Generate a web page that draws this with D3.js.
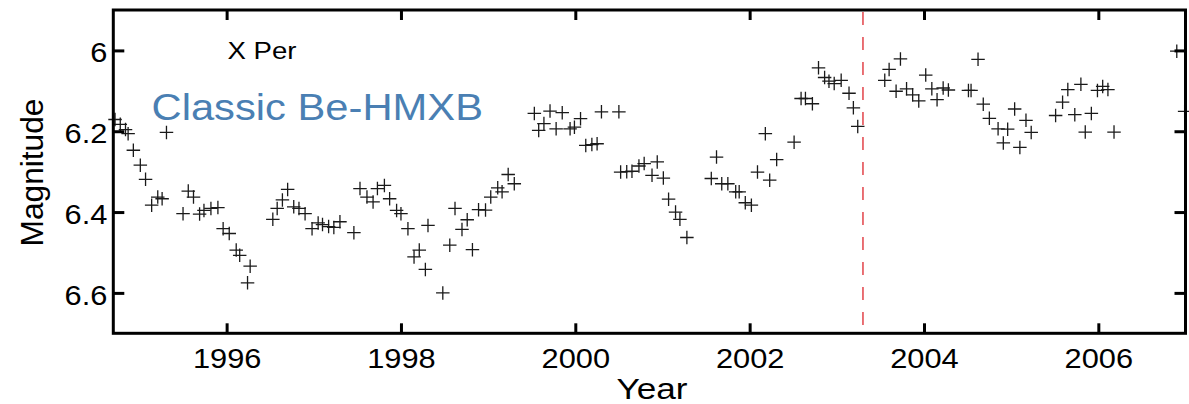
<!DOCTYPE html>
<html>
<head>
<meta charset="utf-8">
<script src="https://cdn.jsdelivr.net/npm/d3@7"></script>
<style>
  html, body { margin: 0; padding: 0; background: #fff; }
  svg { display: block; font-family: "Liberation Sans", Arial, sans-serif; }
</style>
</head>
<body>
<svg id="chart" width="1189" height="404"></svg>
<script>
// X Per optical light curve: epoch (decimal year) and V magnitude
const years = [
  1994.72,1994.78,1994.84,1994.87,1994.93,1995.01,1995.07,1995.14,1995.21,1995.26,
  1995.31,1995.50,1995.56,1995.62,1995.69,1995.74,1995.82,1995.90,1995.96,1996.03,
  1996.11,1996.15,1996.24,1996.27,1996.53,1996.58,1996.64,1996.70,1996.77,1996.83,
  1996.90,1996.98,1997.05,1997.10,1997.17,1997.23,1997.30,1997.46,1997.53,1997.61,
  1997.68,1997.73,1997.81,1997.87,1997.95,1998.00,1998.08,1998.15,1998.21,1998.28,
  1998.31,1998.48,1998.56,1998.62,1998.70,1998.76,1998.82,1998.89,1998.97,1999.03,
  1999.11,1999.16,1999.23,1999.30,1999.53,1999.58,1999.64,1999.71,1999.78,1999.85,
  1999.94,1999.99,2000.06,2000.12,2000.19,2000.25,2000.30,2000.50,2000.52,2000.59,
  2000.65,2000.73,2000.79,2000.88,2000.94,2001.01,2001.07,2001.15,2001.20,2001.28,
  2001.56,2001.62,2001.68,2001.75,2001.84,2001.88,2001.95,2002.02,2002.09,2002.18,
  2002.23,2002.31,2002.51,2002.59,2002.64,2002.72,2002.79,2002.86,2002.91,2002.97,
  2003.05,2003.14,2003.19,2003.24,2003.55,2003.60,2003.68,2003.73,2003.80,2003.87,
  2003.94,2004.02,2004.09,2004.15,2004.22,2004.28,2004.51,2004.54,2004.62,2004.68,
  2004.75,2004.85,2004.91,2004.96,2005.04,2005.10,2005.17,2005.23,2005.51,2005.59,
  2005.65,2005.73,2005.80,2005.85,2005.92,2005.99,2006.05,2006.11,2006.18,2006.90,
  2006.99
];
const magnitudes = [
  6.171,6.183,6.196,6.206,6.247,6.284,6.319,6.383,6.363,6.367,
  6.203,6.404,6.348,6.363,6.405,6.396,6.391,6.389,6.441,6.453,
  6.494,6.507,6.575,6.534,6.418,6.391,6.370,6.344,6.387,6.391,
  6.404,6.441,6.427,6.431,6.436,6.438,6.424,6.451,6.342,6.363,
  6.375,6.342,6.334,6.367,6.396,6.404,6.441,6.511,6.494,6.542,
  6.433,6.600,6.482,6.391,6.443,6.419,6.493,6.394,6.395,6.363,
  6.340,6.350,6.307,6.330,6.156,6.198,6.181,6.150,6.194,6.154,
  6.194,6.190,6.169,6.235,6.233,6.231,6.152,6.152,6.301,6.300,
  6.299,6.286,6.280,6.309,6.276,6.316,6.368,6.400,6.418,6.463,
  6.317,6.264,6.330,6.330,6.350,6.350,6.377,6.383,6.301,6.206,
  6.321,6.270,6.227,6.119,6.119,6.132,6.043,6.067,6.076,6.082,
  6.074,6.106,6.142,6.188,6.074,6.047,6.101,6.021,6.095,6.110,
  6.125,6.061,6.095,6.122,6.093,6.098,6.099,6.099,6.022,6.133,
  6.168,6.194,6.229,6.195,6.145,6.240,6.173,6.203,6.161,6.128,
  6.097,6.159,6.084,6.202,6.156,6.099,6.089,6.097,6.202,6.002,
  6.151
];
const yearTicks = [1996, 1998, 2000, 2002, 2004, 2006];
const magTicks = [6.0, 6.2, 6.4, 6.6];
const markerYear = 2003.30;   // vertical dashed reference epoch
const starName = "X Per";
const classLabel = "Classic Be-HMXB";

const svg = d3.select("#chart");
const plot = { left: 113.3, right: 1185.5, top: 10, bottom: 333.3 };

const x = d3.scaleLinear().domain([1994.70, 2007.0]).range([plot.left, plot.right]);
const y = d3.scaleLinear().domain([5.9, 6.7]).range([plot.top, plot.bottom]);

const stretch = 1.1;

// plus-sign marker drawn as a stroked symbol
const plusSymbol = {
  draw(ctx, size) {
    const r = Math.sqrt(size) / 2;
    ctx.moveTo(-r, 0); ctx.lineTo(r, 0);
    ctx.moveTo(0, -r); ctx.lineTo(0, r);
  }
};

// dashed reference line
svg.append("line")
  .attr("x1", x(markerYear)).attr("x2", x(markerYear))
  .attr("y1", plot.top + 2).attr("y2", plot.bottom - 2)
  .attr("stroke", "#e0363c").attr("stroke-width", 1.4)
  .attr("stroke-dasharray", "13,12");

// data points
const pts = years.map((t, i) => ({ t, m: magnitudes[i] }));
svg.append("g").selectAll("path").data(pts).join("path")
  .attr("transform", d => `translate(${x(d.t)},${y(d.m)})`)
  .attr("d", d3.symbol().type(plusSymbol).size(13.5 * 13.5))
  .attr("fill", "none").attr("stroke", "#1a1a1a").attr("stroke-width", 1.3);

// axes with inward ticks on all four sides
function styleAxis(g) {
  g.select(".domain").remove();
  g.selectAll(".tick line").attr("stroke", "#000").attr("stroke-width", 3);
}
const axisB = svg.append("g").attr("transform", `translate(0,${plot.bottom})`)
  .call(d3.axisBottom(x).tickValues(yearTicks).tickSize(-10).tickFormat(d3.format("d")));
styleAxis(axisB);
axisB.selectAll(".tick text")
  .attr("y", 34.4).attr("dy", 0)
  .attr("font-size", 28).attr("fill", "#000")
  .attr("font-family", "'Liberation Sans', Arial, sans-serif")
  .attr("transform", `scale(${stretch},1)`);

const axisT = svg.append("g").attr("transform", `translate(0,${plot.top})`)
  .call(d3.axisTop(x).tickValues(yearTicks).tickSize(-10).tickFormat(""));
styleAxis(axisT);

const axisL = svg.append("g").attr("transform", `translate(${plot.left},0)`)
  .call(d3.axisLeft(y).tickValues(magTicks).tickSize(-11).tickFormat(d3.format("")));
styleAxis(axisL);
axisL.selectAll(".tick text")
  .attr("x", -6 / stretch).attr("dy", "0.4em")
  .attr("font-size", 28).attr("fill", "#000")
  .attr("font-family", "'Liberation Sans', Arial, sans-serif")
  .attr("transform", `scale(${stretch},1)`);

const axisR = svg.append("g").attr("transform", `translate(${plot.right},0)`)
  .call(d3.axisRight(y).tickValues(magTicks).tickSize(-11).tickFormat(""));
styleAxis(axisR);

// frame
svg.append("rect")
  .attr("x", plot.left).attr("y", plot.top)
  .attr("width", plot.right - plot.left).attr("height", plot.bottom - plot.top)
  .attr("fill", "none").attr("stroke", "#000").attr("stroke-width", 3);

// axis titles
svg.append("text")
  .attr("x", 652).attr("y", 398.5)
  .attr("text-anchor", "middle").attr("font-size", 30)
  .attr("textLength", 71).attr("lengthAdjust", "spacingAndGlyphs")
  .text("Year");

svg.append("text")
  .attr("transform", "translate(43,172.5) rotate(-90)")
  .attr("text-anchor", "middle").attr("font-size", 31)
  .attr("textLength", 148).attr("lengthAdjust", "spacingAndGlyphs")
  .text("Magnitude");

// annotations
svg.append("text")
  .attr("x", 227.5).attr("y", 59.3)
  .attr("font-size", 24.5).attr("fill", "#000")
  .attr("textLength", 69).attr("lengthAdjust", "spacingAndGlyphs")
  .text(starName);

svg.append("text")
  .attr("x", 151.5).attr("y", 120)
  .attr("font-size", 37.5).attr("fill", "#4a7fb3")
  .attr("textLength", 331.5).attr("lengthAdjust", "spacingAndGlyphs")
  .text(classLabel);
</script>
</body>
</html>
